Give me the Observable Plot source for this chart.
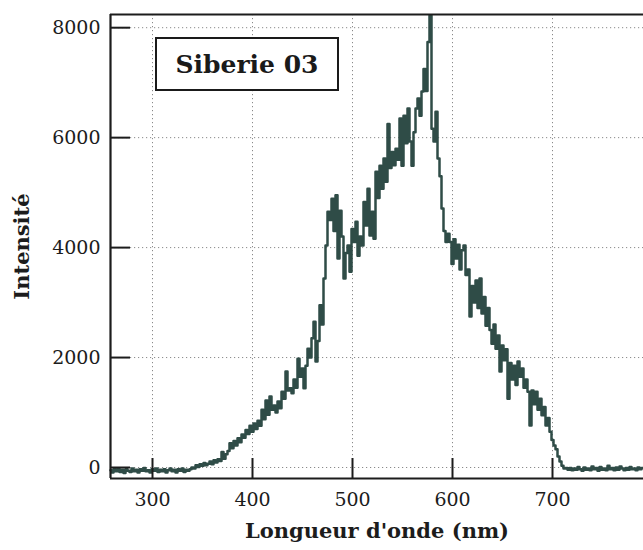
<!DOCTYPE html>
<html>
<head>
<meta charset="utf-8">
<script src="https://cdn.jsdelivr.net/npm/d3@7"></script>
<script src="https://cdn.jsdelivr.net/npm/@observablehq/plot@0.6"></script>
<style>
  html, body { margin: 0; padding: 0; background: #ffffff; }
  #wrap { position: relative; width: 643px; height: 550px; overflow: hidden; }
  #tag {
    position: absolute; left: 155px; top: 37px; width: 184px; height: 54px;
    border: 2.5px solid #1a1a1a; background: #ffffff; box-sizing: border-box;
    font-family: "DejaVu Serif", serif; font-weight: bold; font-size: 25px;
    color: #1a1a1a; display: flex; align-items: center; justify-content: center;
  }
</style>
</head>
<body>
<div id="wrap"><div id="tag"></div></div>
<script>
// ---- data ----
const sampleTitle = "Siberie 03";
const xLabel = "Longueur d'onde (nm)";
const yLabel = "Intensité";
const xTicks = [300, 400, 500, 600, 700];
const yTicks = [0, 2000, 4000, 6000, 8000];
const xDomain = [258, 791];
const yDomain = [-200, 8240];
// wavelength grid: first sample and spacing (nm)
const wlStart = 258;
const wlStep = 2;
// intensities, one row = 10 samples (20 nm)
const intensity = [
  /*258*/ -50,-90,-30,-70,-20,-80,-40,-100,-30,-60,
  /*278*/ -80,-20,-70,-40,-90,-30,-60,-10,-70,-50,
  /*298*/ -90,-30,-60,-20,-80,-40,-70,-30,-90,-50,
  /*318*/ -20,-70,-40,-90,-30,-60,-20,-80,-40,-60,
  /*338*/ -30,0,-20,40,10,60,30,80,40,70,
  /*358*/ 110,60,130,90,150,120,280,160,240,300,
  /*378*/ 440,350,480,400,530,460,600,540,680,610,
  /*398*/ 760,650,800,700,850,760,1050,880,1220,960,
  /*418*/ 1290,1050,1130,1000,1200,1080,1380,1250,1745,1400,
  /*438*/ 1440,1350,1600,1450,1980,1650,1800,1440,1850,2160,
  /*458*/ 2000,2350,2650,1930,2300,2950,2600,3440,4040,4650,
  /*478*/ 4500,4890,4300,4950,3800,4670,4200,3440,3900,4040,
  /*498*/ 3560,4340,4100,4470,3850,4200,4040,4830,4400,5070,
  /*518*/ 4220,4650,4160,5380,4900,5490,5070,5620,5200,6250,
  /*538*/ 5450,5740,5500,5800,5600,6350,5490,6400,5900,6530,
  /*558*/ 5930,5490,6100,6530,6710,6400,6840,7250,6850,7740,
  /*578*/ 8220,6160,5930,6470,5620,5300,4710,4300,4100,4250,
  /*598*/ 4100,3700,4150,3800,4050,3600,3950,4040,3500,3600,
  /*618*/ 2745,3300,3000,3400,2900,3440,2800,3100,2580,2900,
  /*638*/ 2500,2250,2600,2160,2400,1745,2220,1950,2150,1250,
  /*658*/ 1900,1600,1850,1500,1930,1650,1800,1450,1600,1380,
  /*678*/ 765,1400,1150,1380,1050,1250,950,1100,765,900,
  /*698*/ 650,500,400,330,200,110,30,-20,-10,-40,
  /*718*/ -10,-50,-20,-40,10,-30,-60,0,-40,-20,
  /*738*/ -50,20,-30,-10,-60,10,-40,-20,-50,30,
  /*758*/ -30,-10,-50,0,-40,20,-20,-50,-10,-40,
  /*778*/ 10,-30,-20,-50,0,-30,-10
];

const spectrum = intensity.map((v, i) => ({wl: wlStart + i * wlStep, v}));

const W = 643, H = 550;
const mL = 110, mT = 14, mB = 72, mR = 0;
const innerH = H - mT - mB;
const innerW = W - mL - mR;
const tickLen = 20;
const ink = "#1c1c1c";
const gridStyle = {stroke: "#8a8a8a", strokeDasharray: "1.2,2.8", strokeWidth: 1};

const chart = Plot.plot({
  width: W,
  height: H,
  marginLeft: mL,
  marginTop: mT,
  marginBottom: mB,
  marginRight: mR,
  style: {fontFamily: "DejaVu Serif, serif", fontSize: "19px", color: ink, background: "#ffffff", overflow: "visible"},
  x: {domain: xDomain},
  y: {domain: yDomain},
  marks: [
    Plot.ruleX(xTicks, {x: d => d, ...gridStyle}),
    Plot.ruleY(yTicks, {y: d => d, ...gridStyle}),
    Plot.line(spectrum, {x: "wl", y: "v", curve: "step", stroke: "#2f4c47", strokeWidth: 2.5}),
    Plot.tickX(xTicks, {x: d => d, insetTop: innerH - tickLen, stroke: ink, strokeWidth: 2}),
    Plot.tickY(yTicks, {y: d => d, insetRight: innerW - tickLen, stroke: ink, strokeWidth: 2}),
    Plot.ruleX([xDomain[0]], {stroke: ink, strokeWidth: 2.2}),
    Plot.ruleY([yDomain[0]], {stroke: ink, strokeWidth: 2.2}),
    Plot.ruleY([yDomain[1]], {stroke: ink, strokeWidth: 2.2}),
    Plot.axisX(xTicks, {tickSize: 0, tickPadding: 14, tickFormat: d => String(d), label: null, fontSize: 19}),
    Plot.axisY(yTicks, {tickSize: 0, tickPadding: 10, tickFormat: d => String(d), label: null, fontSize: 19}),
    Plot.text([xLabel], {frameAnchor: "bottom", dy: 59, text: d => d, fontSize: 21, fontWeight: "bold", fill: ink}),
    Plot.text([yLabel], {frameAnchor: "left", dx: -88, rotate: -90, textAnchor: "middle", text: d => d, fontSize: 21, fontWeight: "bold", fill: ink})
  ]
});

document.getElementById("wrap").prepend(chart);
document.getElementById("tag").textContent = sampleTitle;
</script>
</body>
</html>
